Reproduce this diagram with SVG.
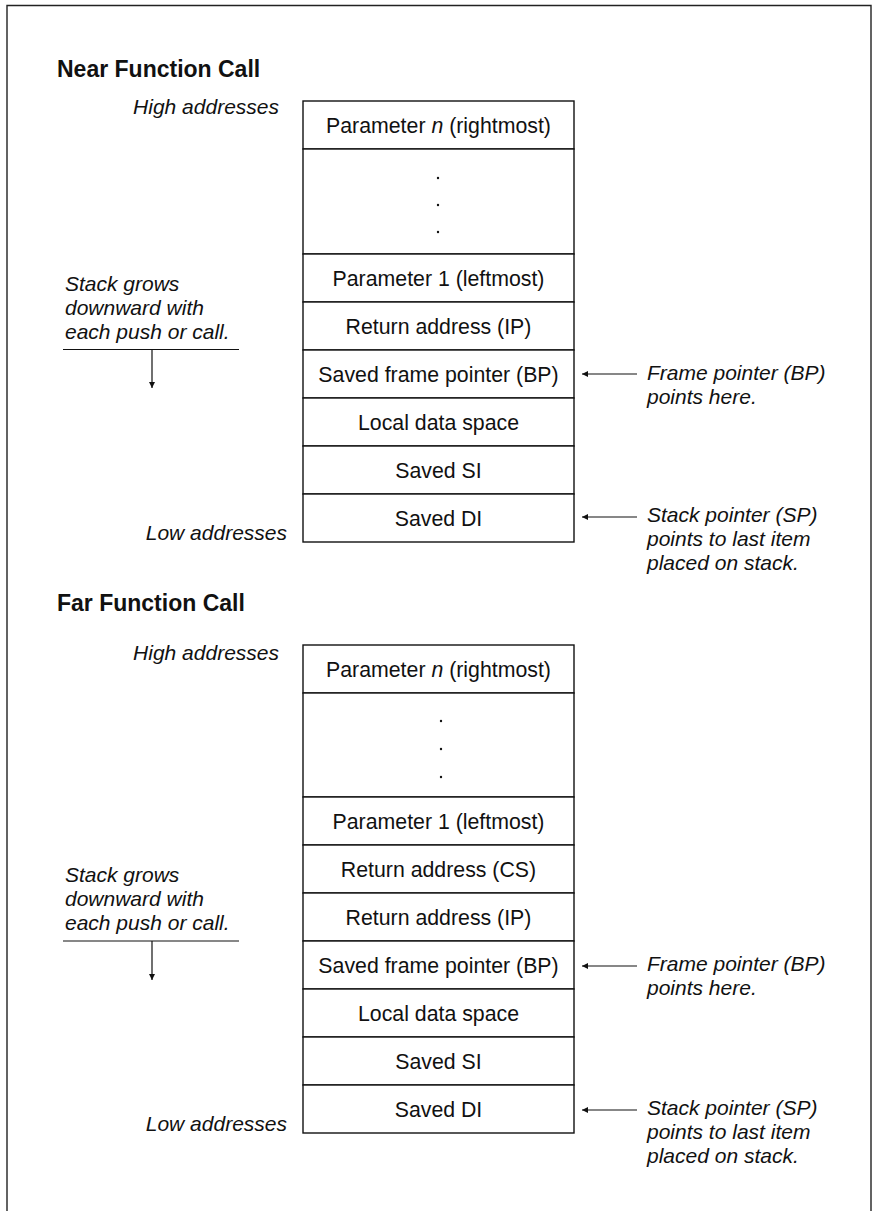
<svg xmlns="http://www.w3.org/2000/svg" width="879" height="1211" viewBox="0 0 879 1211">
  <defs>
    <marker id="head" viewBox="0 0 10 10" refX="10" refY="5" markerWidth="8" markerHeight="6" markerUnits="userSpaceOnUse" orient="auto">
      <path d="M0,0 L10,5 L0,10 z" fill="#111"/>
    </marker>
    <style>
      .cell { fill: #fff; stroke: #111; stroke-width: 1.4; }
      .lbl { font-family: "Liberation Sans", Arial, Helvetica, sans-serif; font-size: 21.3px; fill: #111; text-anchor: middle; }
      .note { font-family: "Liberation Sans", Arial, Helvetica, sans-serif; font-size: 21px; font-style: italic; fill: #111; }
      .end { text-anchor: end; }
      .title { font-family: "Liberation Sans", Arial, Helvetica, sans-serif; font-size: 23px; font-weight: bold; fill: #111; }
      .conn { stroke: #111; stroke-width: 1.2; fill: none; }
      .dot { fill: #111; }
    </style>
  </defs>
  <rect width="879" height="1211" fill="#fff"/>
  <!-- outer frame, open at the bottom -->
  <path d="M7,1211 V5.5 H871 V1211" fill="none" stroke="#222" stroke-width="1.4"/>

  <!-- ===== Near function call ===== -->
  <text class="title" x="57" y="77">Near Function Call</text>
  <text class="note end" x="279" y="114">High addresses</text>
  <text class="note end" x="287" y="540">Low addresses</text>
  <text class="note" x="65" y="291">Stack grows</text>
  <text class="note" x="65" y="315">downward with</text>
  <text class="note" x="65" y="339">each push or call.</text>
  <text class="note" x="647" y="380">Frame pointer (BP)</text>
  <text class="note" x="647" y="404">points here.</text>
  <text class="note" x="647" y="522">Stack pointer (SP)</text>
  <text class="note" x="647" y="546">points to last item</text>
  <text class="note" x="647" y="570">placed on stack.</text>

  <g id="near-param-n"><rect class="cell" x="303" y="101" width="271" height="48"/><text class="lbl" x="438.5" y="132.5">Parameter <tspan font-style="italic">n</tspan> (rightmost)</text></g>
  <g id="near-more-params"><rect class="cell" x="303" y="149" width="271" height="105"/><circle class="dot" cx="438" cy="178" r="1.2"/><circle class="dot" cx="438" cy="205" r="1.2"/><circle class="dot" cx="438" cy="232" r="1.2"/></g>
  <g id="near-param-1"><rect class="cell" x="303" y="254" width="271" height="48"/><text class="lbl" x="438.5" y="285.5">Parameter 1 (leftmost)</text></g>
  <g id="near-ret-ip"><rect class="cell" x="303" y="302" width="271" height="48"/><text class="lbl" x="438.5" y="333.5">Return address (IP)</text></g>
  <g id="near-saved-bp"><rect class="cell" x="303" y="350" width="271" height="48"/><text class="lbl" x="438.5" y="381.5">Saved frame pointer (BP)</text></g>
  <g id="near-locals"><rect class="cell" x="303" y="398" width="271" height="48"/><text class="lbl" x="438.5" y="429.5">Local data space</text></g>
  <g id="near-saved-si"><rect class="cell" x="303" y="446" width="271" height="48"/><text class="lbl" x="438.5" y="477.5">Saved SI</text></g>
  <g id="near-saved-di"><rect class="cell" x="303" y="494" width="271" height="48"/><text class="lbl" x="438.5" y="525.5">Saved DI</text></g>

  <!-- ===== Far function call ===== -->
  <text class="title" x="57" y="611">Far Function Call</text>
  <text class="note end" x="279" y="660">High addresses</text>
  <text class="note end" x="287" y="1131">Low addresses</text>
  <text class="note" x="65" y="882">Stack grows</text>
  <text class="note" x="65" y="906">downward with</text>
  <text class="note" x="65" y="930">each push or call.</text>
  <text class="note" x="647" y="971">Frame pointer (BP)</text>
  <text class="note" x="647" y="995">points here.</text>
  <text class="note" x="647" y="1115">Stack pointer (SP)</text>
  <text class="note" x="647" y="1139">points to last item</text>
  <text class="note" x="647" y="1163">placed on stack.</text>

  <g id="far-param-n"><rect class="cell" x="303" y="645" width="271" height="48"/><text class="lbl" x="438.5" y="676.5">Parameter <tspan font-style="italic">n</tspan> (rightmost)</text></g>
  <g id="far-more-params"><rect class="cell" x="303" y="693" width="271" height="104"/><circle class="dot" cx="441" cy="721" r="1.2"/><circle class="dot" cx="441" cy="749" r="1.2"/><circle class="dot" cx="441" cy="777" r="1.2"/></g>
  <g id="far-param-1"><rect class="cell" x="303" y="797" width="271" height="48"/><text class="lbl" x="438.5" y="828.5">Parameter 1 (leftmost)</text></g>
  <g id="far-ret-cs"><rect class="cell" x="303" y="845" width="271" height="48"/><text class="lbl" x="438.5" y="876.5">Return address (CS)</text></g>
  <g id="far-ret-ip"><rect class="cell" x="303" y="893" width="271" height="48"/><text class="lbl" x="438.5" y="924.5">Return address (IP)</text></g>
  <g id="far-saved-bp"><rect class="cell" x="303" y="941" width="271" height="48"/><text class="lbl" x="438.5" y="972.5">Saved frame pointer (BP)</text></g>
  <g id="far-locals"><rect class="cell" x="303" y="989" width="271" height="48"/><text class="lbl" x="438.5" y="1020.5">Local data space</text></g>
  <g id="far-saved-si"><rect class="cell" x="303" y="1037" width="271" height="48"/><text class="lbl" x="438.5" y="1068.5">Saved SI</text></g>
  <g id="far-saved-di"><rect class="cell" x="303" y="1085" width="271" height="48"/><text class="lbl" x="438.5" y="1116.5">Saved DI</text></g>

  <!-- connectors: growth rules and pointer arrows -->
  <g id="connectors">
    <line class="conn" x1="63" y1="349.5" x2="239" y2="349.5"/>
    <line class="conn" x1="152" y1="349.5" x2="152" y2="388" marker-end="url(#head)"/>
    <line class="conn" x1="637" y1="374" x2="582" y2="374" marker-end="url(#head)"/>
    <line class="conn" x1="637" y1="517" x2="582" y2="517" marker-end="url(#head)"/>

    <line class="conn" x1="63" y1="941" x2="239" y2="941"/>
    <line class="conn" x1="152" y1="941" x2="152" y2="980" marker-end="url(#head)"/>
    <line class="conn" x1="637" y1="966" x2="582" y2="966" marker-end="url(#head)"/>
    <line class="conn" x1="637" y1="1110" x2="582" y2="1110" marker-end="url(#head)"/>
  </g>
</svg>
